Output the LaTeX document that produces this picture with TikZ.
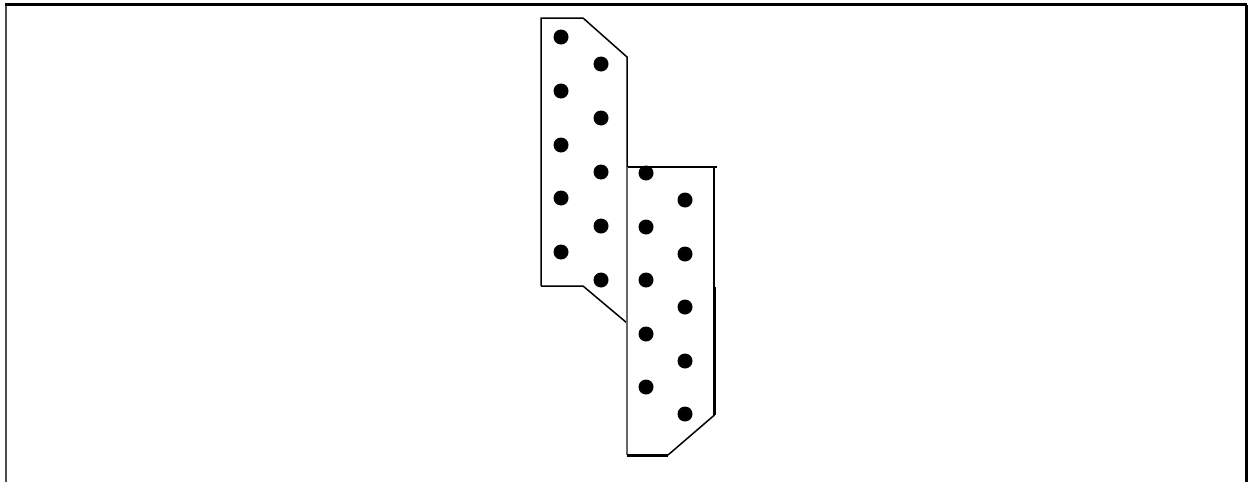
\documentclass[tikz,border=0pt]{standalone}
\begin{document}
\begin{tikzpicture}[x=1pt,y=-1pt,
  edge/.style={line width=1.5pt, black},
  thick edge/.style={line width=3pt, black},
  grey edge/.style={line width=2pt, black!60},
  dot/.style={circle, fill=black, inner sep=0pt, minimum size=15pt}]
\useasboundingbox (0,0) rectangle (1250,482);
% frame
\draw[line width=2pt, black!70] (5.5,482) -- (5.5,4.5);
\draw[line width=2.5pt] (4.5,4.5) -- (1247,4.5);
\draw[line width=2.5pt] (1246.5,4.5) -- (1246.5,482);
% left shape
\draw[edge] (541,286) -- (541,18) -- (583,18) -- (627,57) -- (627,322);
\draw[edge] (541,286) -- (583,286) -- (627,323);
% right shape
\draw[edge] (627,167) -- (717,167);
\draw[grey edge] (627,167) -- (627,455);
\draw[edge] (714,167) -- (714,288);
\draw[thick edge] (714.5,287) -- (714.5,415);
\draw[edge] (714.5,415) -- (668,455);
\draw[thick edge] (627,455) -- (668,455);
% dots left shape
\foreach \i/\y in {1/37,2/91,3/145,4/198,5/252}
  \node[dot] (la\i) at (561,\y) {};
\foreach \i/\y in {1/64,2/118,3/172,4/226,5/280}
  \node[dot] (lb\i) at (601,\y) {};
% dots right shape
\foreach \i/\y in {1/173,2/227,3/280,4/334,5/387}
  \node[dot] (ra\i) at (646,\y) {};
\foreach \i/\y in {1/200,2/254,3/307,4/361,5/414}
  \node[dot] (rb\i) at (685,\y) {};
\end{tikzpicture}
\end{document}
